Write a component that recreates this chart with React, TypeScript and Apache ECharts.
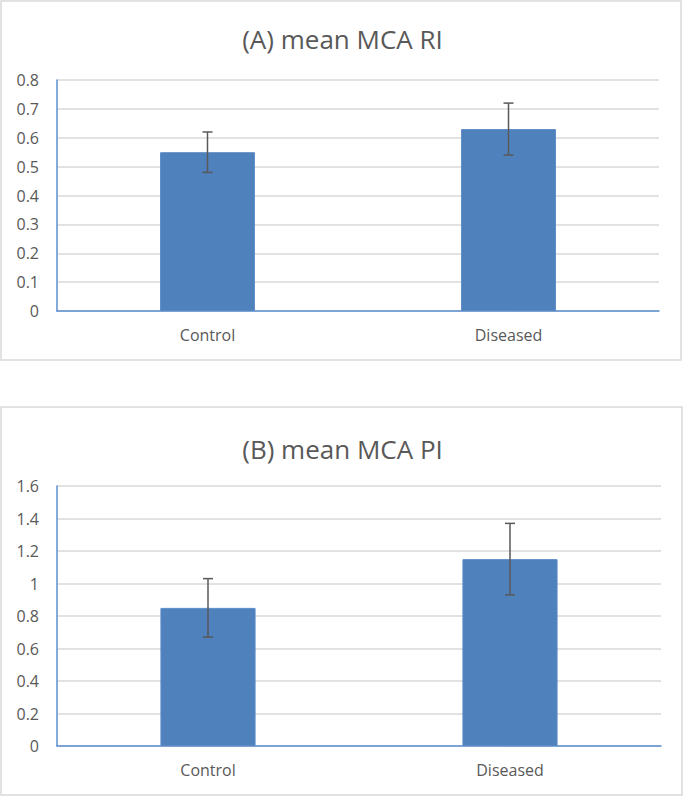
import React, { useEffect, useRef } from "react";
import * as echarts from "echarts";

const categories = ["Control", "Diseased"];
const riMeans = [0.55, 0.63];
const riErrors = [0.07, 0.09];
const piMeans = [0.85, 1.15];
const piErrors = [0.18, 0.22];
const titleA = "(A) mean MCA RI";
const titleB = "(B) mean MCA PI";

const FONT = "'Open Sans', 'Liberation Sans', sans-serif";
const TEXT = "#595959";
const BAR = "#4F81BD";
const AXIS = "#5B8FD0";
const GRID = "#D9D9D9";

function errData(means: number[], errs: number[]) {
  return means.map((m, i) => [i, m - errs[i], m + errs[i]]);
}

function renderErr(params: any, api: any) {
  const x = api.value(0);
  const lo = api.coord([x, api.value(1)]);
  const hi = api.coord([x, api.value(2)]);
  const half = 5;
  const style = { stroke: "#595959", lineWidth: 1.5 };
  return {
    type: "group",
    children: [
      { type: "line", shape: { x1: hi[0], y1: hi[1], x2: lo[0], y2: lo[1] }, style },
      { type: "line", shape: { x1: hi[0] - half, y1: hi[1], x2: hi[0] + half, y2: hi[1] }, style },
      { type: "line", shape: { x1: lo[0] - half, y1: lo[1], x2: lo[0] + half, y2: lo[1] }, style },
    ],
  };
}

export default function App() {
  const ref = useRef<HTMLDivElement>(null);
  useEffect(() => {
    if (!ref.current) return;
    const chart = echarts.init(ref.current, undefined, { renderer: "svg" });
    const xAxisBase = {
      type: "category",
      data: categories,
      axisTick: { show: false },
      axisLine: { show: true, lineStyle: { color: AXIS, width: 1.5 } },
      axisLabel: { color: TEXT, fontSize: 16, fontFamily: FONT, margin: 16 },
    };
    const yAxisBase = {
      type: "value",
      min: 0,
      axisLine: { show: true, lineStyle: { color: AXIS, width: 1.5 } },
      axisTick: { show: false },
      splitLine: { show: true, lineStyle: { color: GRID, width: 1.5 } },
      axisLabel: { color: TEXT, fontSize: 16, fontFamily: FONT, margin: 18 },
    };
    chart.setOption({
      animation: false,
      backgroundColor: "#ffffff",
      title: [
        {
          text: titleA,
          left: "center",
          top: 21,
          textStyle: { color: TEXT, fontSize: 26, fontWeight: "normal", fontFamily: FONT },
        },
        {
          text: titleB,
          left: "center",
          top: 431,
          textStyle: { color: TEXT, fontSize: 26, fontWeight: "normal", fontFamily: FONT },
        },
      ],
      graphic: [
        { type: "rect", shape: { x: 1, y: 1, width: 680, height: 359 }, style: { fill: "none", stroke: GRID, lineWidth: 1.5 }, z: -1 },
        { type: "rect", shape: { x: 1, y: 407, width: 681, height: 388 }, style: { fill: "none", stroke: GRID, lineWidth: 1.5 }, z: -1 },
      ],
      grid: [
        { left: 57, right: 26, top: 80, bottom: 486 },
        { left: 57, right: 24, top: 486, bottom: 51 },
      ],
      xAxis: [
        { ...xAxisBase, gridIndex: 0 },
        { ...xAxisBase, gridIndex: 1 },
      ],
      yAxis: [
        { ...yAxisBase, gridIndex: 0, max: 0.8, interval: 0.1 },
        { ...yAxisBase, gridIndex: 1, max: 1.6, interval: 0.2 },
      ],
      series: [
        { type: "bar", xAxisIndex: 0, yAxisIndex: 0, data: riMeans, barWidth: "31.5%", itemStyle: { color: BAR, borderColor: "#5A8AC6", borderWidth: 1 } },
        { type: "custom", xAxisIndex: 0, yAxisIndex: 0, data: errData(riMeans, riErrors), renderItem: renderErr, z: 5 },
        { type: "bar", xAxisIndex: 1, yAxisIndex: 1, data: piMeans, barWidth: "31.5%", itemStyle: { color: BAR, borderColor: "#5A8AC6", borderWidth: 1 } },
        { type: "custom", xAxisIndex: 1, yAxisIndex: 1, data: errData(piMeans, piErrors), renderItem: renderErr, z: 5 },
      ],
    });
    return () => chart.dispose();
  }, []);
  return (
    <div
      ref={ref}
      style={{ position: "absolute", left: 0, top: 0, width: 685, height: 797 }}
    />
  );
}
